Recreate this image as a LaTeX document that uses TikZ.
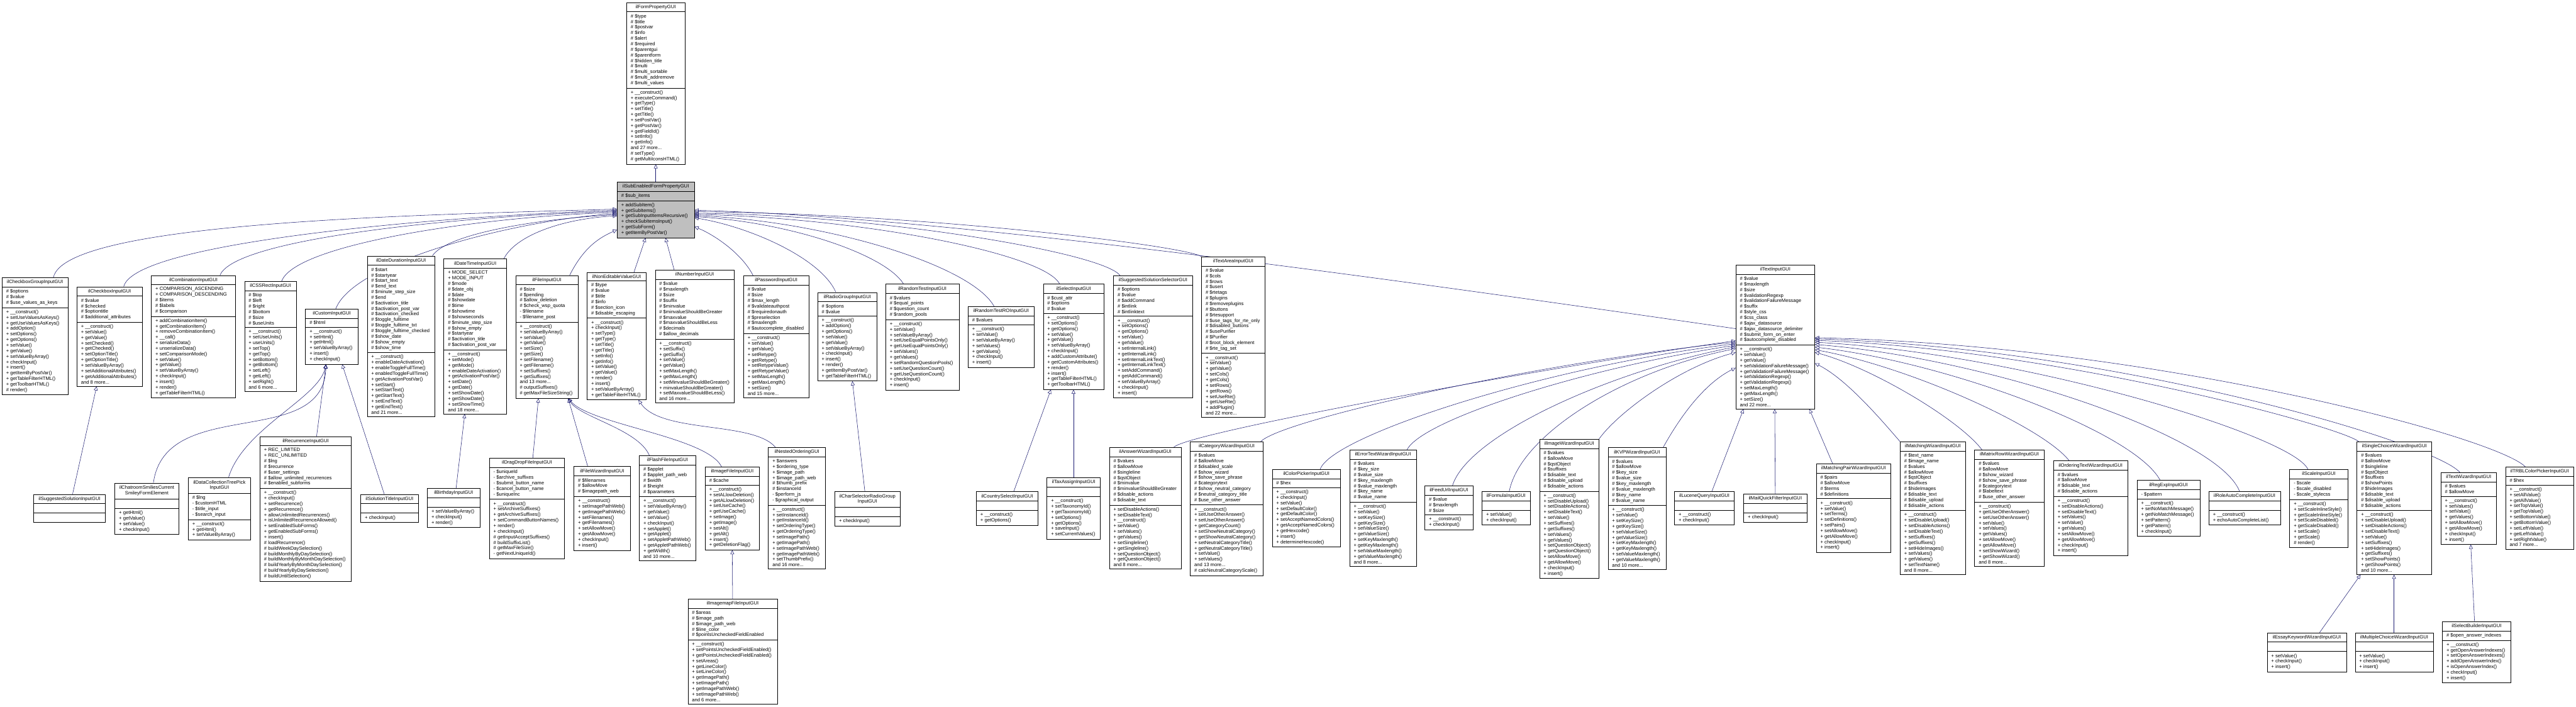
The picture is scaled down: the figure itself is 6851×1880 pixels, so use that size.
\documentclass[tikz,border=0pt]{standalone}
\usepackage{fontspec}
\setmainfont{Liberation Sans}
\usetikzlibrary{arrows.meta,shapes.multipart,backgrounds,calc}
\definecolor{edgeblue}{HTML}{191970}

\begin{document}
\begin{tikzpicture}[
    x=1pt, y=-1pt,
    cls/.style={draw, line width=0.9pt, fill=white, anchor=north west,
        rectangle split, rectangle split parts=3,
        rectangle split part align={center,left,left},
        rectangle split empty part height=9.5pt, rectangle split empty part depth=2.5pt,
        align=left, inner xsep=11pt, inner ysep=6pt,
        font=\fontsize{12.8}{14.8}\selectfont},
    base/.style={cls, fill=gray!50},
    inh/.style={draw=edgeblue, line width=0.9pt, -{Triangle[open, length=11pt, width=10pt]}}
]
\useasboundingbox (0,0) rectangle (6851,1880);

% Root classes
\node[cls, minimum width=155pt] (fp) at (1666,6) {ilFormPropertyGUI
  \nodepart{two}\# \$type\\\# \$title\\\# \$postvar\\\# \$info\\\# \$alert\\\# \$required\\\# \$parentgui\\\# \$parentform\\\# \$hidden\_title\\\# \$multi\\\# \$multi\_sortable\\\# \$multi\_addremove\\\# \$multi\_values
  \nodepart{three}+ \_\_construct()\\+ executeCommand()\\+ getType()\\+ setTitle()\\+ getTitle()\\+ setPostVar()\\+ getPostVar()\\+ getFieldId()\\+ setInfo()\\+ getInfo()\\and 27 more...\\\# setType()\\\# getMultiIconsHTML()};
\node[base, minimum width=205pt] (sub) at (1641,483) {ilSubEnabledFormPropertyGUI
  \nodepart{two}\# \$sub\_items
  \nodepart{three}+ addSubItem()\\+ getSubItems()\\+ getSubInputItemsRecursive()\\+ checkSubItemsInput()\\+ getSubForm()\\+ getItemByPostVar()};

% Direct subclasses
\node[cls, minimum width=175pt] (cbg) at (5,738) {ilCheckboxGroupInputGUI
  \nodepart{two}\# \$options\\\# \$value\\\# \$use\_values\_as\_keys
  \nodepart{three}+ \_\_construct()\\+ setUseValuesAsKeys()\\+ getUseValuesAsKeys()\\+ addOption()\\+ setOptions()\\+ getOptions()\\+ setValue()\\+ getValue()\\+ setValueByArray()\\+ checkInput()\\+ insert()\\+ getItemByPostVar()\\+ getTableFilterHTML()\\+ getToolbarHTML()\\\# render()};
\node[cls, minimum width=174pt] (cb) at (204,762) {ilCheckboxInputGUI
  \nodepart{two}\# \$value\\\# \$checked\\\# \$optiontitle\\\# \$additional\_attributes
  \nodepart{three}+ \_\_construct()\\+ setValue()\\+ getValue()\\+ setChecked()\\+ getChecked()\\+ setOptionTitle()\\+ getOptionTitle()\\+ setValueByArray()\\+ setAdditionalAttributes()\\+ getAdditionalAttributes()\\and 8 more...};
\node[cls, minimum width=224pt] (comb) at (402,732) {ilCombinationInputGUI
  \nodepart{two}+ COMPARISON\_ASCENDING\\+ COMPARISON\_DESCENDING\\\# \$items\\\# \$labels\\\# \$comparison
  \nodepart{three}+ addCombinationItem()\\+ getCombinationItem()\\+ removeCombinationItem()\\+ \_\_call()\\+ serializeData()\\+ unserializeData()\\+ setComparisonMode()\\+ setValue()\\+ getValue()\\+ setValueByArray()\\+ checkInput()\\+ insert()\\+ render()\\+ getTableFilterHTML()};
\node[cls, minimum width=138pt] (css) at (650,748) {ilCSSRectInputGUI
  \nodepart{two}\# \$top\\\# \$left\\\# \$right\\\# \$bottom\\\# \$size\\\# \$useUnits
  \nodepart{three}+ \_\_construct()\\+ setUseUnits()\\+ useUnits()\\+ setTop()\\+ getTop()\\+ setBottom()\\+ getBottom()\\+ setLeft()\\+ getLeft()\\+ setRight()\\and 6 more...};
\node[cls, minimum width=140pt] (cust) at (812,821) {ilCustomInputGUI
  \nodepart{two}\# \$html
  \nodepart{three}+ \_\_construct()\\+ setHtml()\\+ getHtml()\\+ setValueByArray()\\+ insert()\\+ checkInput()};
\node[cls, minimum width=180pt] (dd) at (976,680) {ilDateDurationInputGUI
  \nodepart{two}\# \$start\\\# \$startyear\\\# \$start\_text\\\# \$end\_text\\\# \$minute\_step\_size\\\# \$end\\\# \$activation\_title\\\# \$activation\_post\_var\\\# \$activation\_checked\\\# \$toggle\_fulltime\\\# \$toggle\_fulltime\_txt\\\# \$toggle\_fulltime\_checked\\\# \$show\_date\\\# \$show\_empty\\\# \$show\_time
  \nodepart{three}+ \_\_construct()\\+ enableDateActivation()\\+ enableToggleFullTime()\\+ enabledToggleFullTime()\\+ getActivationPostVar()\\+ setStart()\\+ setStartText()\\+ getStartText()\\+ setEndText()\\+ getEndText()\\and 21 more...};
\node[cls, minimum width=167pt] (dt) at (1180,688) {ilDateTimeInputGUI
  \nodepart{two}+ MODE\_SELECT\\+ MODE\_INPUT\\\# \$mode\\\# \$date\_obj\\\# \$date\\\# \$showdate\\\# \$time\\\# \$showtime\\\# \$showseconds\\\# \$minute\_step\_size\\\# \$show\_empty\\\# \$startyear\\\# \$activation\_title\\\# \$activation\_post\_var
  \nodepart{three}+ \_\_construct()\\+ setMode()\\+ getMode()\\+ enableDateActivation()\\+ getActivationPostVar()\\+ setDate()\\+ getDate()\\+ setShowDate()\\+ getShowDate()\\+ setShowTime()\\and 18 more...};
\node[cls, minimum width=166pt] (fi) at (1371,732) {ilFileInputGUI
  \nodepart{two}\# \$size\\\# \$pending\\\# \$allow\_deletion\\\# \$check\_wsp\_quota\\- \$filename\\- \$filename\_post
  \nodepart{three}+ \_\_construct()\\+ setValueByArray()\\+ setValue()\\+ getValue()\\+ setSize()\\+ getSize()\\+ setFilename()\\+ getFilename()\\+ setSuffixes()\\+ getSuffixes()\\and 13 more...\\\# outputSuffixes()\\\# getMaxFileSizeString()};
\node[cls, minimum width=157pt] (ne) at (1561,724) {ilNonEditableValueGUI
  \nodepart{two}\# \$type\\\# \$value\\\# \$title\\\# \$info\\\# \$section\_icon\\\# \$disable\_escaping
  \nodepart{three}+ \_\_construct()\\+ checkInput()\\+ setType()\\+ getType()\\+ setTitle()\\+ getTitle()\\+ setInfo()\\+ getInfo()\\+ setValue()\\+ getValue()\\+ render()\\+ insert()\\+ setValueByArray()\\+ getTableFilterHTML()};
\node[cls, minimum width=210pt] (num) at (1742,718) {ilNumberInputGUI
  \nodepart{two}\# \$value\\\# \$maxlength\\\# \$size\\\# \$suffix\\\# \$minvalue\\\# \$minvalueShouldBeGreater\\\# \$maxvalue\\\# \$maxvalueShouldBeLess\\\# \$decimals\\\# \$allow\_decimals
  \nodepart{three}+ \_\_construct()\\+ setSuffix()\\+ getSuffix()\\+ setValue()\\+ getValue()\\+ setMaxLength()\\+ getMaxLength()\\+ setMinvalueShouldBeGreater()\\+ minvalueShouldBeGreater()\\+ setMaxvalueShouldBeLess()\\and 16 more...};
\node[cls, minimum width=174pt] (pw) at (1977,733) {ilPasswordInputGUI
  \nodepart{two}\# \$value\\\# \$size\\\# \$max\_length\\\# \$validateauthpost\\\# \$requiredonauth\\\# \$preselection\\\# \$maxlength\\\# \$autocomplete\_disabled
  \nodepart{three}+ \_\_construct()\\+ setValue()\\+ getValue()\\+ setRetype()\\+ getRetype()\\+ setRetypeValue()\\+ getRetypeValue()\\+ setMaxLength()\\+ getMaxLength()\\+ setSize()\\and 15 more...};
\node[cls, minimum width=158pt] (rg) at (2174,777) {ilRadioGroupInputGUI
  \nodepart{two}\# \$options\\\# \$value
  \nodepart{three}+ \_\_construct()\\+ addOption()\\+ getOptions()\\+ setValue()\\+ getValue()\\+ setValueByArray()\\+ checkInput()\\+ insert()\\+ render()\\+ getItemByPostVar()\\+ getTableFilterHTML()};
\node[cls, minimum width=195pt] (rt) at (2355,755) {ilRandomTestInputGUI
  \nodepart{two}\# \$values\\\# \$equal\_points\\\# \$question\_count\\\# \$random\_pools
  \nodepart{three}+ \_\_construct()\\+ setValue()\\+ setValueByArray()\\+ setUseEqualPointsOnly()\\+ getUseEqualPointsOnly()\\+ setValues()\\+ getValues()\\+ setRandomQuestionPools()\\+ setUseQuestionCount()\\+ getUseQuestionCount()\\+ checkInput()\\+ insert()};
\node[cls, minimum width=176pt] (rtro) at (2574,815) {ilRandomTestROInputGUI
  \nodepart{two}\# \$values
  \nodepart{three}+ \_\_construct()\\+ setValue()\\+ setValueByArray()\\+ setValues()\\+ getValues()\\+ checkInput()\\+ insert()};
\node[cls, minimum width=162pt] (sel) at (2774,755) {ilSelectInputGUI
  \nodepart{two}\# \$cust\_attr\\\# \$options\\\# \$value
  \nodepart{three}+ \_\_construct()\\+ setOptions()\\+ getOptions()\\+ setValue()\\+ getValue()\\+ setValueByArray()\\+ checkInput()\\+ addCustomAttribute()\\+ getCustomAttributes()\\+ render()\\+ insert()\\+ getTableFilterHTML()\\+ getToolbarHTML()};
\node[cls, minimum width=210pt] (sss) at (2961,733) {ilSuggestedSolutionSelectorGUI
  \nodepart{two}\# \$options\\\# \$value\\\# \$addCommand\\\# \$intlink\\\# \$intlinktext
  \nodepart{three}+ \_\_construct()\\+ setOptions()\\+ getOptions()\\+ setValue()\\+ getValue()\\+ setInternalLink()\\+ getInternalLink()\\+ setInternalLinkText()\\+ getInternalLinkText()\\+ setAddCommand()\\+ getAddCommand()\\+ setValueByArray()\\+ checkInput()\\+ insert()};
\node[cls, minimum width=169pt] (ta) at (3195,682) {ilTextAreaInputGUI
  \nodepart{two}\# \$value\\\# \$cols\\\# \$rows\\\# \$usert\\\# \$rtetags\\\# \$plugins\\\# \$removeplugins\\\# \$buttons\\\# \$rtesupport\\\# \$use\_tags\_for\_rte\_only\\\# \$disabled\_buttons\\\# \$usePurifier\\\# \$Purifier\\\# \$root\_block\_element\\\# \$rte\_tag\_set
  \nodepart{three}+ \_\_construct()\\+ setValue()\\+ getValue()\\+ setCols()\\+ getCols()\\+ setRows()\\+ getRows()\\+ setUseRte()\\+ getUseRte()\\+ addPlugin()\\and 22 more...};
\node[cls, minimum width=210pt] (ti) at (4616,704) {ilTextInputGUI
  \nodepart{two}\# \$value\\\# \$maxlength\\\# \$size\\\# \$validationRegexp\\\# \$validationFailureMessage\\\# \$suffix\\\# \$style\_css\\\# \$css\_class\\\# \$ajax\_datasource\\\# \$ajax\_datasource\_delimiter\\\# \$submit\_form\_on\_enter\\\# \$autocomplete\_disabled
  \nodepart{three}+ \_\_construct()\\+ setValue()\\+ getValue()\\+ setValidationFailureMessage()\\+ getValidationFailureMessage()\\+ setValidationRegexp()\\+ getValidationRegexp()\\+ setMaxLength()\\+ getMaxLength()\\+ setSize()\\and 22 more...};

% Second level, left part
\node[cls, minimum width=191pt] (ssi) at (89,1314) {ilSuggestedSolutionInputGUI\nodepart{two}\nodepart{three}};
\node[cls, minimum width=170pt] (chs) at (305,1284) {\begin{tabular}{@{}c@{}}ilChatroomSmiliesCurrent\\SmileyFormElement\end{tabular}
  \nodepart{two}
  \nodepart{three}+ getHtml()\\+ getValue()\\+ setValue()\\+ checkInput()};
\node[cls, minimum width=166pt] (dcp) at (500,1269) {\begin{tabular}{@{}c@{}}ilDataCollectionTreePick\\InputGUI\end{tabular}
  \nodepart{two}\# \$lng\\- \$customHTML\\- \$title\_input\\- \$search\_input
  \nodepart{three}+ \_\_construct()\\+ getHtml()\\+ setValueByArray()};
\node[cls, minimum width=243pt] (rec) at (691,1160) {ilRecurrenceInputGUI
  \nodepart{two}+ REC\_LIMITED\\+ REC\_UNLIMITED\\\# \$lng\\\# \$recurrence\\\# \$user\_settings\\\# \$allow\_unlimited\_recurrences\\\# \$enabled\_subforms
  \nodepart{three}+ \_\_construct()\\+ checkInput()\\+ setRecurrence()\\+ getRecurrence()\\+ allowUnlimitedRecurrences()\\+ isUnlimitedRecurrenceAllowed()\\+ setEnabledSubForms()\\+ getEnabledSubForms()\\+ insert()\\\# loadRecurrence()\\\# buildWeekDaySelection()\\\# buildMonthlyByDaySelection()\\\# buildMonthlyByMonthDaySelection()\\\# buildYearlyByMonthDaySelection()\\\# buildYearlyByDaySelection()\\\# buildUntilSelection()};
\node[cls, minimum width=153pt] (stg) at (959,1314) {ilSolutionTitleInputGUI
  \nodepart{two}
  \nodepart{three}+ checkInput()};
\node[cls, minimum width=140pt] (bd) at (1136,1298) {ilBirthdayInputGUI
  \nodepart{two}
  \nodepart{three}+ setValueByArray()\\+ checkInput()\\+ render()};
\node[cls, minimum width=200pt] (ddf) at (1301,1218) {ilDragDropFileInputGUI
  \nodepart{two}- \$uniqueId\\- \$archive\_suffixes\\- \$submit\_button\_name\\- \$cancel\_button\_name\\- \$uniqueInc
  \nodepart{three}+ \_\_construct()\\+ setArchiveSuffixes()\\+ getArchiveSuffixes()\\+ setCommandButtonNames()\\+ render()\\+ checkInput()\\\# getInputAcceptSuffixes()\\\# buildSuffixList()\\\# getMaxFileSize()\\- getNextUniqueId()};
\node[cls, minimum width=150pt] (fw) at (1526,1240) {ilFileWizardInputGUI
  \nodepart{two}\# \$filenames\\\# \$allowMove\\\# \$imagepath\_web
  \nodepart{three}+ \_\_construct()\\+ setImagePathWeb()\\+ getImagePathWeb()\\+ setFilenames()\\+ getFilenames()\\+ setAllowMove()\\+ getAllowMove()\\+ checkInput()\\+ insert()};
\node[cls, minimum width=150pt] (ff) at (1700,1211) {ilFlashFileInputGUI
  \nodepart{two}\# \$applet\\\# \$applet\_path\_web\\\# \$width\\\# \$height\\\# \$parameters
  \nodepart{three}+ \_\_construct()\\+ setValueByArray()\\+ getValue()\\+ setValue()\\+ checkInput()\\+ setApplet()\\+ getApplet()\\+ setAppletPathWeb()\\+ getAppletPathWeb()\\+ getWidth()\\and 10 more...};
\node[cls, minimum width=144pt] (imf) at (1875,1241) {ilImageFileInputGUI
  \nodepart{two}\# \$cache
  \nodepart{three}+ \_\_construct()\\+ setALlowDeletion()\\+ getALlowDeletion()\\+ setUseCache()\\+ getUseCache()\\+ setImage()\\+ getImage()\\+ setAlt()\\+ getAlt()\\+ insert()\\+ getDeletionFlag()};
\node[cls, minimum width=152pt] (no) at (2043,1189) {ilNestedOrderingGUI
  \nodepart{two}+ \$answers\\+ \$ordering\_type\\+ \$image\_path\\+ \$image\_path\_web\\\# \$thumb\_prefix\\\# \$instanceId\\- \$perform\_js\\- \$graphical\_output
  \nodepart{three}+ \_\_construct()\\+ setInstanceId()\\+ getInstanceId()\\+ setOrderingType()\\+ getOrderingType()\\+ setImagePath()\\+ getImagePath()\\+ setImagePathWeb()\\+ getImagePathWeb()\\+ setThumbPrefix()\\and 16 more...};
\node[cls, minimum width=238pt] (imap) at (1829,1592) {ilImagemapFileInputGUI
  \nodepart{two}\# \$areas\\\# \$image\_path\\\# \$image\_path\_web\\\# \$line\_color\\\# \$pointsUncheckedFieldEnabled
  \nodepart{three}+ \_\_construct()\\+ setPointsUncheckedFieldEnabled()\\+ getPointsUncheckedFieldEnabled()\\+ setAreas()\\+ getLineColor()\\+ setLineColor()\\+ getImagePath()\\+ setImagePath()\\+ getImagePathWeb()\\+ setImagePathWeb()\\and 6 more...};
\node[cls, minimum width=173pt] (csr) at (2220,1306) {\begin{tabular}{@{}c@{}}ilCharSelectorRadioGroup\\InputGUI\end{tabular}
  \nodepart{two}
  \nodepart{three}+ checkInput()};
\node[cls, minimum width=164pt] (cs) at (2596,1307) {ilCountrySelectInputGUI
  \nodepart{two}
  \nodepart{three}+ \_\_construct()\\+ getOptions()};
\node[cls, minimum width=142pt] (tax) at (2784,1270) {ilTaxAssignInputGUI
  \nodepart{two}
  \nodepart{three}+ \_\_construct()\\+ setTaxonomyId()\\+ getTaxonomyId()\\+ setOptions()\\+ getOptions()\\+ saveInput()\\+ setCurrentValues()};

% Subclasses of ilTextInputGUI
\node[cls, minimum width=191pt] (aw) at (2950,1189) {ilAnswerWizardInputGUI
  \nodepart{two}\# \$values\\\# \$allowMove\\\# \$singleline\\\# \$qstObject\\\# \$minvalue\\\# \$minvalueShouldBeGreater\\\# \$disable\_actions\\\# \$disable\_text
  \nodepart{three}+ setDisableActions()\\+ setDisableText()\\+ \_\_construct()\\+ setValue()\\+ setValues()\\+ getValues()\\+ setSingleline()\\+ getSingleline()\\+ setQuestionObject()\\+ getQuestionObject()\\and 8 more...};
\node[cls, minimum width=194pt] (cw) at (3165,1174) {ilCategoryWizardInputGUI
  \nodepart{two}\# \$values\\\# \$allowMove\\\# \$disabled\_scale\\\# \$show\_wizard\\\# \$show\_save\_phrase\\\# \$categorytext\\\# \$show\_neutral\_category\\\# \$neutral\_category\_title\\\# \$use\_other\_answer
  \nodepart{three}+ \_\_construct()\\+ setUseOtherAnswer()\\+ setUseOtherAnswer()\\+ getCategoryCount()\\+ setShowNeutralCategory()\\+ getShowNeutralCategory()\\+ setNeutralCategoryTitle()\\+ getNeutralCategoryTitle()\\+ setValue()\\+ setValues()\\and 13 more...\\\# calcNeutralCategoryScale()};
\node[cls, minimum width=182pt] (cp) at (3383,1248) {ilColorPickerInputGUI
  \nodepart{two}\# \$hex
  \nodepart{three}+ \_\_construct()\\+ checkInput()\\+ setValue()\\+ setDefaultColor()\\+ getDefaultColor()\\+ setAcceptNamedColors()\\+ getAcceptNamedColors()\\+ getHexcode()\\+ insert()\\+ determineHexcode()};
\node[cls, minimum width=177pt] (et) at (3589,1196) {ilErrorTextWizardInputGUI
  \nodepart{two}\# \$values\\\# \$key\_size\\\# \$value\_size\\\# \$key\_maxlength\\\# \$value\_maxlength\\\# \$key\_name\\\# \$value\_name
  \nodepart{three}+ \_\_construct()\\+ setValue()\\+ setKeySize()\\+ getKeySize()\\+ setValueSize()\\+ getValueSize()\\+ setKeyMaxlength()\\+ getKeyMaxlength()\\+ setValueMaxlength()\\+ getValueMaxlength()\\and 8 more...};
\node[cls, minimum width=128pt] (fu) at (3789,1291) {ilFeedUrlInputGUI
  \nodepart{two}\# \$value\\\# \$maxlength\\\# \$size
  \nodepart{three}+ \_\_construct()\\+ checkInput()};
\node[cls, minimum width=128pt] (fo) at (3941,1306) {ilFormulaInputGUI
  \nodepart{two}
  \nodepart{three}+ setValue()\\+ checkInput()};
\node[cls, minimum width=158pt] (iw) at (4094,1167) {ilImageWizardInputGUI
  \nodepart{two}\# \$values\\\# \$allowMove\\\# \$qstObject\\\# \$suffixes\\\# \$disable\_text\\\# \$disable\_upload\\\# \$disable\_actions
  \nodepart{three}+ \_\_construct()\\+ setDisableUpload()\\+ setDisableActions()\\+ setDisableText()\\+ setValue()\\+ setSuffixes()\\+ getSuffixes()\\+ setValues()\\+ getValues()\\+ setQuestionObject()\\+ getQuestionObject()\\+ setAllowMove()\\+ getAllowMove()\\+ checkInput()\\+ insert()};
\node[cls, minimum width=154pt] (kvp) at (4276,1190) {ilKVPWizardInputGUI
  \nodepart{two}\# \$values\\\# \$allowMove\\\# \$key\_size\\\# \$value\_size\\\# \$key\_maxlength\\\# \$value\_maxlength\\\# \$key\_name\\\# \$value\_name
  \nodepart{three}+ \_\_construct()\\+ setValue()\\+ setKeySize()\\+ getKeySize()\\+ setValueSize()\\+ getValueSize()\\+ setKeyMaxlength()\\+ getKeyMaxlength()\\+ setValueMaxlength()\\+ getValueMaxlength()\\and 10 more...};
\node[cls, minimum width=159pt] (lq) at (4453,1306) {ilLuceneQueryInputGUI
  \nodepart{two}
  \nodepart{three}+ \_\_construct()\\+ checkInput()};
\node[cls, minimum width=168pt] (mq) at (4637,1313) {ilMailQuickFilterInputGUI
  \nodepart{two}
  \nodepart{three}+ checkInput()};
\node[cls, minimum width=198pt] (mpw) at (4830,1233) {ilMatchingPairWizardInputGUI
  \nodepart{two}\# \$pairs\\\# \$allowMove\\\# \$terms\\\# \$definitions
  \nodepart{three}+ \_\_construct()\\+ setValue()\\+ setTerms()\\+ setDefinitions()\\+ setPairs()\\+ setAllowMove()\\+ getAllowMove()\\+ checkInput()\\+ insert()};
\node[cls, minimum width=174pt] (mw) at (5053,1174) {ilMatchingWizardInputGUI
  \nodepart{two}\# \$text\_name\\\# \$image\_name\\\# \$values\\\# \$allowMove\\\# \$qstObject\\\# \$suffixes\\\# \$hideImages\\\# \$disable\_text\\\# \$disable\_upload\\\# \$disable\_actions
  \nodepart{three}+ \_\_construct()\\+ setDisableUpload()\\+ setDisableActions()\\+ setDisableText()\\+ setSuffixes()\\+ getSuffixes()\\+ setHideImages()\\+ setValues()\\+ getValues()\\+ setTextName()\\and 8 more...};
\node[cls, minimum width=185pt] (mrw) at (5251,1196) {ilMatrixRowWizardInputGUI
  \nodepart{two}\# \$values\\\# \$allowMove\\\# \$show\_wizard\\\# \$show\_save\_phrase\\\# \$categorytext\\\# \$labeltext\\\# \$use\_other\_answer
  \nodepart{three}+ \_\_construct()\\+ getUseOtherAnswer()\\+ setUseOtherAnswer()\\+ setValue()\\+ setValues()\\+ getValues()\\+ setAllowMove()\\+ getAllowMove()\\+ setShowWizard()\\+ getShowWizard()\\and 8 more...};
\node[cls, minimum width=197pt] (otw) at (5461,1225) {ilOrderingTextWizardInputGUI
  \nodepart{two}\# \$values\\\# \$allowMove\\\# \$disable\_text\\\# \$disable\_actions
  \nodepart{three}+ \_\_construct()\\+ setDisableActions()\\+ setDisableText()\\+ setValues()\\+ setValue()\\+ getValues()\\+ setAllowMove()\\+ getAllowMove()\\+ checkInput()\\+ insert()};
\node[cls, minimum width=167pt] (re) at (5683,1277) {ilRegExpInputGUI
  \nodepart{two}- \$pattern
  \nodepart{three}+ \_\_construct()\\+ setNoMatchMessage()\\+ getNoMatchMessage()\\+ setPattern()\\+ getPattern()\\+ checkInput()};
\node[cls, minimum width=190pt] (rac) at (5874,1306) {ilRoleAutoCompleteInputGUI
  \nodepart{two}
  \nodepart{three}+ \_\_construct()\\+ echoAutoCompleteList()};
\node[cls, minimum width=155pt] (sc) at (6089,1248) {ilScaleInputGUI
  \nodepart{two}- \$scale\\- \$scale\_disabled\\- \$scale\_stylecss
  \nodepart{three}+ \_\_construct()\\+ setScaleInlineStyle()\\+ getScaleInlineStyle()\\+ setScaleDisabled()\\+ getScaleDisabled()\\+ setScale()\\+ getScale()\\\# render()};
\node[cls, minimum width=199pt] (scw) at (6268,1174) {ilSingleChoiceWizardInputGUI
  \nodepart{two}\# \$values\\\# \$allowMove\\\# \$singleline\\\# \$qstObject\\\# \$suffixes\\\# \$showPoints\\\# \$hideImages\\\# \$disable\_text\\\# \$disable\_upload\\\# \$disable\_actions
  \nodepart{three}+ \_\_construct()\\+ setDisableUpload()\\+ setDisableActions()\\+ setDisableText()\\+ setValue()\\+ setSuffixes()\\+ setHideImages()\\+ getSuffixes()\\+ setShowPoints()\\+ getShowPoints()\\and 10 more...};
\node[cls, minimum width=148pt] (tw) at (6491,1256) {ilTextWizardInputGUI
  \nodepart{two}\# \$values\\\# \$allowMove
  \nodepart{three}+ \_\_construct()\\+ setValues()\\+ setValue()\\+ getValues()\\+ setAllowMove()\\+ getAllowMove()\\+ checkInput()\\+ insert()};
\node[cls, minimum width=182pt] (trbl) at (6663,1241) {ilTRBLColorPickerInputGUI
  \nodepart{two}\# \$hex
  \nodepart{three}+ \_\_construct()\\+ setAllValue()\\+ getAllValue()\\+ setTopValue()\\+ getTopValue()\\+ setBottomValue()\\+ getBottomValue()\\+ setLeftValue()\\+ getLeftValue()\\+ setRightValue()\\and 7 more...};

% Third level
\node[cls, minimum width=211pt] (ekw) at (6029,1682) {ilEssayKeywordWizardInputGUI
  \nodepart{two}
  \nodepart{three}+ setValue()\\+ checkInput()\\+ insert()};
\node[cls, minimum width=208pt] (mcw) at (6263,1682) {ilMultipleChoiceWizardInputGUI
  \nodepart{two}
  \nodepart{three}+ setValue()\\+ checkInput()\\+ insert()};
\node[cls, minimum width=182pt] (sb) at (6495,1652) {ilSelectBuilderInputGUI
  \nodepart{two}\# \$open\_answer\_indexes
  \nodepart{three}+ \_\_construct()\\+ getOpenAnswerIndexes()\\+ setOpenAnswerIndexes()\\+ addOpenAnswerIndex()\\+ isOpenAnswerIndex()\\+ checkInput()\\+ insert()};

\begin{scope}[on background layer]
\fill[white] (0,0) rectangle (6851,1880);

% inheritance to ilFormPropertyGUI
\draw[inh] (sub.north) -- (fp.south);

% to ilSubEnabledFormPropertyGUI, left side
\draw[inh] ($(cbg.north west)+(137,0)$) .. controls +(30,-150) and +(-500,15) .. ($(sub.north west)+(0,73)$);
\draw[inh] ($(cb.north west)+(125,0)$) .. controls +(30,-120) and +(-450,15) .. ($(sub.north west)+(0,76)$);
\draw[inh] ($(comb.north west)+(183,0)$) .. controls +(40,-100) and +(-400,12) .. ($(sub.north west)+(0,79)$);
\draw[inh] ($(css.north west)+(99,0)$) .. controls +(35,-100) and +(-350,10) .. ($(sub.north west)+(0,82)$);
\draw[inh] ($(cust.north west)+(81,0)$) .. controls +(50,-130) and +(-250,15) .. ($(sub.north west)+(0,85)$);
\draw[inh] ($(dd.north west)+(174,0)$) .. controls +(40,-60) and +(-200,10) .. ($(sub.north west)+(0,88)$);
\draw[inh] ($(dt.north west)+(160,0)$) .. controls +(30,-60) and +(-150,8) .. ($(sub.north west)+(0,91)$);
\draw[inh] ($(fi.north west)+(144,0)$) .. controls +(40,-80) and +(-40,18) .. ($(sub.north west)+(0,128)$);
% bottom side
\draw[inh] ($(ne.north west)+(125,0)$) -- ($(sub.south west)+(76,0)$);
\draw[inh] ($(num.north west)+(51,0)$) -- ($(sub.south west)+(129,0)$);
% right side
\draw[inh] ($(pw.north west)+(26,0)$) .. controls +(-30,-60) and +(50,20) .. ($(sub.north east)+(0,120)$);
\draw[inh] ($(rg.north west)+(49,0)$) .. controls +(-40,-90) and +(150,25) .. ($(sub.north east)+(0,96)$);
\draw[inh] ($(rt.north west)+(48,0)$) .. controls +(-50,-80) and +(250,15) .. ($(sub.north east)+(0,93)$);
\draw[inh] ($(rtro.north west)+(70,0)$) .. controls +(-60,-110) and +(350,15) .. ($(sub.north east)+(0,90)$);
\draw[inh] ($(sel.north west)+(44,0)$) .. controls +(-40,-80) and +(450,10) .. ($(sub.north east)+(0,87)$);
\draw[inh] ($(sss.north west)+(18,0)$) .. controls +(-40,-60) and +(500,5) .. ($(sub.north east)+(0,84)$);
\draw[inh] (ta.north west) .. controls +(-50,-30) and +(600,5) .. ($(sub.north east)+(0,80)$);
\draw[inh] ($(ti.north west)+(0,170)$) .. controls +(-900,-130) and +(700,20) .. ($(sub.north east)+(0,76)$);

% to ilCustomInputGUI
\draw[inh] ($(chs.north west)+(103,0)$) .. controls +(32,-234) and +(-7,229) .. ($(cust.south west)+(55,0)$);
\draw[inh] ($(dcp.north west)+(108,0)$) .. controls +(40,-130) and +(-20,90) .. ($(cust.south west)+(55,0)$);
\draw[inh] ($(rec.north west)+(151,0)$) -- ($(cust.south west)+(55,0)$);
\draw[inh] ($(stg.north west)+(63,0)$) -- ($(cust.south west)+(98,0)$);

% other second level
\draw[inh] ($(ssi.north west)+(104,0)$) -- ($(cb.south west)+(53,0)$);
\draw[inh] ($(bd.north west)+(77,0)$) -- ($(dt.south west)+(56,0)$);
\draw[inh] ($(ddf.north west)+(116,0)$) -- ($(fi.south west)+(61,0)$);
\draw[inh] ($(fw.north west)+(37,0)$) -- ($(fi.south west)+(140,0)$);
\draw[inh] ($(ff.north west)+(27,0)$) .. controls +(-30,-70) and +(30,50) .. ($(fi.south west)+(140,0)$);
\draw[inh] ($(imf.north west)+(44,0)$) .. controls +(-40,-80) and +(60,70) .. ($(fi.south west)+(140,0)$);
\draw[inh] ($(no.north west)+(19,0)$) .. controls +(-60,-70) and +(60,90) .. ($(ne.south west)+(137,0)$);
\draw[inh] (imap.north) -- (imf.south);
\draw[inh] ($(csr.north west)+(80,0)$) -- ($(rg.south west)+(93,0)$);
\draw[inh] ($(cs.north west)+(100,0)$) -- ($(sel.south west)+(21,0)$);
\draw[inh] ($(tax.north west)+(71,0)$) -- ($(sel.south west)+(81,0)$);

% to ilTextInputGUI, left side
\draw[inh] ($(aw.north west)+(172,0)$) .. controls +(40,-40) and +(-500,70) .. ($(ti.north west)+(0,202)$);
\draw[inh] ($(cw.north west)+(188,0)$) .. controls +(60,-60) and +(-500,50) .. ($(ti.north west)+(0,206)$);
\draw[inh] ($(cp.north west)+(128,0)$) .. controls +(30,-90) and +(-500,60) .. ($(ti.north west)+(0,210)$);
\draw[inh] ($(et.north west)+(153,0)$) .. controls +(40,-80) and +(-400,60) .. ($(ti.north west)+(0,214)$);
\draw[inh] ($(fu.north west)+(74,0)$) .. controls +(40,-130) and +(-350,70) .. ($(ti.north west)+(0,218)$);
\draw[inh] ($(fo.north west)+(73,0)$) .. controls +(30,-150) and +(-300,60) .. ($(ti.north west)+(0,223)$);
\draw[inh] (iw.north east) .. controls +(50,-70) and +(-150,40) .. ($(ti.north west)+(0,233)$);
\draw[inh] ($(kvp.north west)+(147,0)$) .. controls +(50,-90) and +(-80,40) .. ($(ti.north west)+(0,274)$);
% bottom side
\draw[inh] ($(lq.north west)+(100,0)$) -- ($(ti.south west)+(21,0)$);
\draw[inh] (mq.north) -- ($(ti.south west)+(104,0)$);
\draw[inh] ($(mpw.north west)+(44,0)$) -- ($(ti.south west)+(196,0)$);
% right side
\draw[inh] (mw.north west) .. controls +(-60,-70) and +(80,40) .. ($(ti.north east)+(0,262)$);
\draw[inh] ($(mrw.north west)+(20,0)$) .. controls +(-60,-80) and +(150,40) .. ($(ti.north east)+(0,233)$);
\draw[inh] ($(otw.north west)+(42,0)$) .. controls +(-70,-90) and +(250,45) .. ($(ti.north east)+(0,226)$);
\draw[inh] ($(re.north west)+(62,0)$) .. controls +(-70,-130) and +(350,40) .. ($(ti.north east)+(0,219)$);
\draw[inh] ($(rac.north west)+(82,0)$) .. controls +(-60,-150) and +(450,35) .. ($(ti.north east)+(0,212)$);
\draw[inh] ($(sc.north west)+(49,0)$) .. controls +(-40,-90) and +(550,30) .. ($(ti.north east)+(0,206)$);
\draw[inh] ($(scw.north west)+(5,0)$) .. controls +(-50,-40) and +(650,25) .. ($(ti.north east)+(0,201)$);
\draw[inh] ($(tw.north west)+(51,0)$) .. controls +(-70,-80) and +(800,25) .. ($(ti.north east)+(0,197)$);
\draw[inh] ($(trbl.north west)+(53,0)$) .. controls +(-80,-80) and +(900,20) .. ($(ti.north east)+(0,194)$);

% third level
\draw[inh] ($(ekw.north west)+(140,0)$) -- ($(scw.south west)+(10,0)$);
\draw[inh] ($(mcw.north west)+(104,0)$) -- ($(scw.south west)+(99,0)$);
\draw[inh] ($(sb.north west)+(86,0)$) -- ($(tw.south west)+(80,0)$);
\end{scope}

\end{tikzpicture}
\end{document}
